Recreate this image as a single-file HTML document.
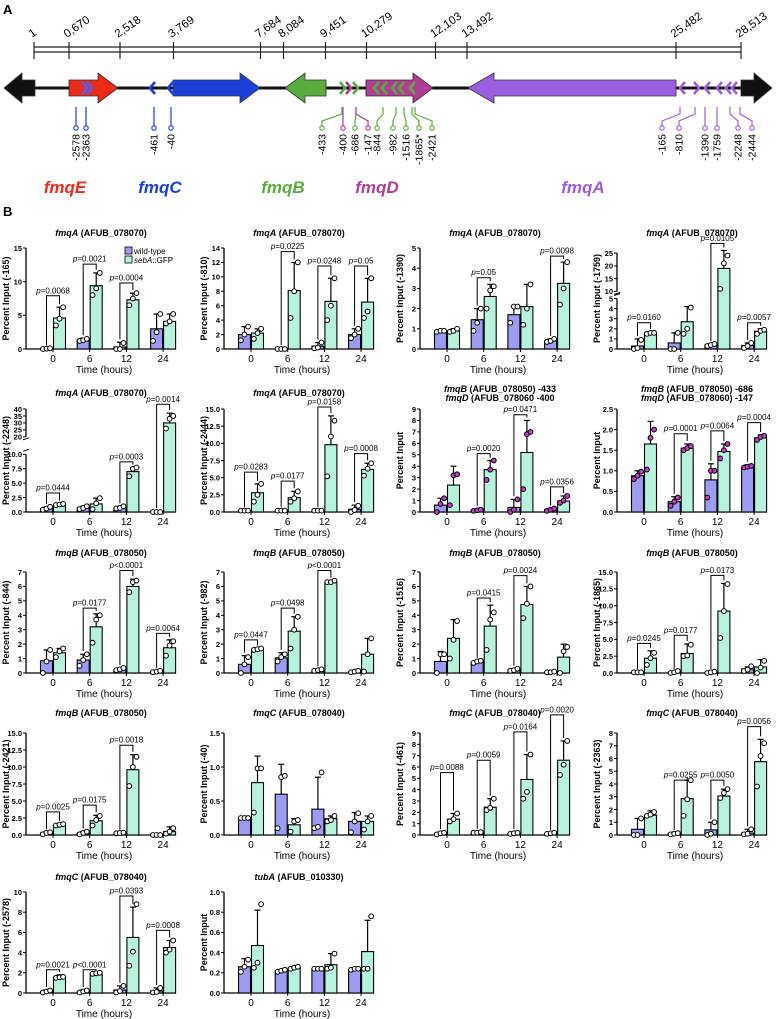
<!DOCTYPE html>
<html><head><meta charset="utf-8">
<style>
body{margin:0;background:#fff;}
svg{display:block;font-family:"Liberation Sans",Arial,sans-serif;}
</style></head>
<body>
<svg id="fig" width="778" height="1019" viewBox="0 0 778 1019" xmlns="http://www.w3.org/2000/svg">
<text x="3" y="14" font-size="13" font-weight="bold">A</text>
<text x="3" y="216" font-size="13" font-weight="bold">B</text>
<g id="panelA"></g>
<g id="panelB"></g>
</svg>
<script>
const NS="http://www.w3.org/2000/svg";
function mk(tag,attrs,parent){const e=document.createElementNS(NS,tag);for(const k in attrs)e.setAttribute(k,attrs[k]);parent.appendChild(e);return e;}
const A=document.getElementById('panelA');

/* ---------- Panel A ---------- */
const rulerPos=[34,69,120,173.5,260.5,283.5,325.5,366.5,435.5,467,676,741];
const rulerLabels=["1","0,670","2,518","3,769","7,684","8,084","9,451","10,279","12,103","13,492","25,482","28,513"];
let l;
l=mk('line',{x1:34,y1:47,x2:741,y2:47,stroke:'#222','stroke-width':1.3},A);


l=mk('line',{x1:34,y1:52,x2:741,y2:52,stroke:'#222','stroke-width':1.3},A);


rulerPos.forEach((x,i)=>{
  const t=mk('line',{x1:x,y1:42,x2:x,y2:59,stroke:'#222','stroke-width':1.2},A);
  
  
  const tx=mk('text',{x:x-2,y:38,'font-size':11.5,transform:`rotate(-35 ${x-2} 38)`},A);
  tx.textContent=rulerLabels[i];
  
  
});
l=mk('line',{x1:10,y1:88,x2:766,y2:88,stroke:'#111','stroke-width':3},A);


function arrow(x0,x1,dir,color,name,hx){
  let pts;
  if(dir>0)pts=`${x0},80 ${hx},80 ${hx},73 ${x1},88 ${hx},103 ${hx},96 ${x0},96`;
  else pts=`${x1},80 ${hx},80 ${hx},73 ${x0},88 ${hx},103 ${hx},96 ${x1},96`;
  const p=mk('polygon',{points:pts,fill:color,stroke:'#333','stroke-width':0.8},A);
  
  
}
arrow(4,35,-1,'#111','left-flank-arrow',22);
arrow(741,772,1,'#111','right-flank-arrow',754);
arrow(69,118,1,'#ee2a1a','fmqE-gene-arrow',98);
arrow(173,260,1,'#1a3fd8','fmqC-gene-arrow',240);
arrow(285,326,-1,'#5aab3e','fmqB-gene-arrow',305);
arrow(366,433,1,'#b03c94','fmqD-gene-arrow',413);
arrow(468,676,-1,'#9a5fe0','fmqA-gene-arrow',494);
function chev(x,dir,color){
  const d=dir>0?`M${x-3},82 L${x+2},88 L${x-3},94`:`M${x+3},82 L${x-2},88 L${x+3},94`;
  const p=mk('path',{d:d,fill:'none',stroke:color,'stroke-width':2.6},A);
  
  
}
[[85,1,'#5060ff'],[90,1,'#5060ff'],[152,-1,'#1a3fd8'],[170,-1,'#1a3fd8'],[343,1,'#5aab3e'],[349,1,'#b03c94'],[356,1,'#5aab3e'],[376,-1,'#5aab3e'],[384,-1,'#5aab3e'],[394,-1,'#5aab3e'],[401,-1,'#5aab3e'],[412,-1,'#5aab3e'],
 [682,-1,'#9a5fe0'],[697,1,'#9a5fe0'],[707,-1,'#9a5fe0'],[719,-1,'#9a5fe0'],[728,-1,'#9a5fe0'],[734,-1,'#9a5fe0']].forEach(c=>chev(c[0],c[1],c[2]));
const siteX=[76,86,154,171,322,343,355,368,377,393,406,419,432,662,679,705,717,738,752];
const siteStart=[76,86,154,171,342,343,356,356,383,396,404,412,415,680,695,705,717,730,740];
const siteLabels=["-2578","-2363","-461","-40","-433","-400","-686","-147","-844","-982","-1516","-1865*","-2421","-165","-810","-1390","-1759","-2248","-2444"];
const siteColors=['#1a3fd8','#1a3fd8','#1a3fd8','#1a3fd8','#5aab3e','#b03c94','#5aab3e','#b03c94','#5aab3e','#5aab3e','#5aab3e','#5aab3e','#5aab3e','#9a5fe0','#9a5fe0','#9a5fe0','#9a5fe0','#9a5fe0','#9a5fe0'];
siteX.forEach((x,i)=>{
  const s=siteStart[i],c=siteColors[i];
  const p=mk('polyline',{points:`${s},107 ${s},114 ${x},121 ${x},126`,fill:'none',stroke:c,'stroke-width':1.2},A);
  
  
  const ci=mk('circle',{cx:x,cy:128,r:2.2,fill:'#fff',stroke:c,'stroke-width':1.1},A);
  
  
  const t=mk('text',{x:x+3.5,y:134,'font-size':10.5,'text-anchor':'end',transform:`rotate(-90 ${x+3.5} 134)`},A);
  t.textContent=siteLabels[i];
  
  
});
[['fmqE',65,'#ee2a1a'],['fmqC',160,'#1a3fd8'],['fmqB',283,'#5aab3e'],['fmqD',377,'#b03c94'],['fmqA',583,'#9a5fe0']].forEach(g=>{
  const t=mk('text',{x:g[1],y:193,'font-size':17,'font-weight':'bold','font-style':'italic',fill:g[2],'text-anchor':'middle'},A);
  t.textContent=g[0];
  
  
});

/* ---------- Panel B data ---------- */
const categories=["0","6","12","24"];
const titles=[["fmqA"," (AFUB_078070)"],["fmqA"," (AFUB_078070)"],["fmqA"," (AFUB_078070)"],["fmqA"," (AFUB_078070)"],
 ["fmqA"," (AFUB_078070)"],["fmqA"," (AFUB_078070)"],["fmqB"," (AFUB_078050) -433","fmqD"," (AFUB_078060 -400"],["fmqB"," (AFUB_078050) -686","fmqD"," (AFUB_078060) -147"],
 ["fmqB"," (AFUB_078050)"],["fmqB"," (AFUB_078050)"],["fmqB"," (AFUB_078050)"],["fmqB"," (AFUB_078050)"],
 ["fmqB"," (AFUB_078050)"],["fmqC"," (AFUB_078040)"],["fmqC"," (AFUB_078040)"],["fmqC"," (AFUB_078040)"],
 ["fmqC"," (AFUB_078040)"],["tubA"," (AFUB_010330)"]];
const yTitles=["Percent Input (-165)","Percent Input (-810)","Percent Input (-1390)","Percent Input (-1759)","Percent Input (-2248)","Percent Input (-2444)","Percent Input","Percent Input",
 "Percent Input (-844)","Percent Input (-982)","Percent Input (-1516)","Percent Input (-1865)","Percent Input (-2421)","Percent Input (-40)","Percent Input (-461)","Percent Input (-2363)","Percent Input (-2578)","Percent Input"];
const tickValues=[[0,5,10,15],[0,2,4,6,8,10,12,14],[0,1,2,3,4,5],[0,1,2,3,4,5,10,15,20,25],
 [0,2.5,5,7.5,10,20,25,30,35,40],[0,2.5,5,7.5,10,12.5,15],[0,1,2,3,4,5,6,7,8,9],[0,0.5,1,1.5,2,2.5],
 [0,1,2,3,4,5,6,7],[0,1,2,3,4,5,6,7],[0,1,2,3,4,5,6,7],[0,2.5,5,7.5,10,12.5,15],
 [0,2.5,5,7.5,10,12.5,15],[0,0.5,1,1.5],[0,1,2,3,4,5,6,7,8,9],[0,1,2,3,4,5,6,7,8],[0,2,4,6,8,10],[0,0.2,0.4,0.6,0.8,1]];
const tickLabels=[["0","5","10","15"],["0","2","4","6","8","10","12","14"],["0","1","2","3","4","5"],["0","1","2","3","4","5","10","15","20","25"],
 ["0.0","2.5","5.0","7.5","10.0","20","25","30","35","40"],["0.0","2.5","5.0","7.5","10.0","12.5","15.0"],["0","1","2","3","4","5","6","7","8","9"],["0.0","0.5","1.0","1.5","2.0","2.5"],
 ["0","1","2","3","4","5","6","7"],["0","1","2","3","4","5","6","7"],["0","1","2","3","4","5","6","7"],["0.0","2.5","5.0","7.5","10.0","12.5","15.0"],
 ["0.0","2.5","5.0","7.5","10.0","12.5","15.0"],["0.0","0.5","1.0","1.5"],["0","1","2","3","4","5","6","7","8","9"],["0","1","2","3","4","5","6","7","8"],["0","2","4","6","8","10"],["0.0","0.2","0.4","0.6","0.8","1.0"]];
const axisSegments=[[[0,15,0,1]],[[0,14,0,1]],[[0,5,0,1]],[[0,5,0,0.5],[10,25,0.57,0.95]],
 [[0,10,0,0.56],[20,40,0.73,1]],[[0,15,0,1]],[[0,9,0,1]],[[0,2.5,0,1]],
 [[0,7,0,1]],[[0,7,0,1]],[[0,7,0,1]],[[0,15,0,1]],
 [[0,15,0,1]],[[0,1.5,0,1]],[[0,9,0,1]],[[0,8,0,1]],[[0,10,0,1]],[[0,1,0,1]]];
const wtMeans=[[0.05,1.3,0.3,3.0],[2,0.05,0.4,2],[0.9,1.45,1.7,0.4],[0.3,0.6,0.4,0.35],
 [0.6,0.7,0.7,0.05],[0.2,0.2,0.2,0.4],[0.6,0.15,0.4,0.2],[0.88,0.25,0.78,1.1],
 [0.85,0.9,0.25,0.1],[0.6,1.05,0.2,0.1],[0.8,0.75,0.2,0.05],[0.1,0.1,0.1,0.6],
 [0.3,0.3,0.3,0.05],[0.25,0.6,0.38,0.2],[0.15,0.2,0.15,0.15],[0.45,0.1,0.4,0.15],[0.15,0.15,0.3,0.2],[0.26,0.22,0.24,0.23]];
const gfpMeans=[[4.6,9.4,7.3,4.1],[2.2,8.1,6.6,6.5],[0.9,2.6,2.1,3.25],[1.6,2.7,19,1.75],
 [1.3,1.4,7,30],[2.8,2.1,9.8,6.2],[2.35,3.7,5.2,0.95],[1.65,1.55,1.47,1.8],
 [1.4,3.2,6.0,1.75],[1.65,2.9,6.3,1.3],[2.4,3.25,4.75,1.1],[2.2,2.9,9.2,0.9],
 [1.5,2.1,9.6,0.5],[0.77,0.15,0.24,0.2],[1.4,2.45,4.9,6.6],[1.55,2.85,3.05,5.75],[1.5,1.95,5.5,4.5],[0.47,0.25,0.28,0.41]];
const wtErrTop=[[0.1,1.6,1.0,5.2],[3.1,0.1,0.9,2.8],[0.95,2.0,2.1,0.5],[1.0,1.6,0.5,0.6],
 [0.9,1.0,1.0,0.1],[0.25,0.25,0.3,1.0],[1.2,0.25,1.1,0.3],[1.0,0.37,1.17,1.15],
 [1.6,1.3,0.35,0.15],[1.2,1.4,0.25,0.15],[1.5,0.85,0.3,0.1],[0.15,0.15,0.15,0.9],
 [0.4,0.5,0.35,0.1],[0.26,1.04,0.85,0.33],[0.25,0.25,0.25,0.2],[1.3,0.15,1.0,0.45],[0.3,0.3,0.7,0.5],[0.34,0.23,0.25,0.24]];
const gfpErrTop=[[6.2,11.3,8.3,5.2],[2.8,12,9.8,9.8],[1.0,3.2,3.2,4.3],[1.7,4.2,26,2.0],
 [1.5,2.4,7.7,37],[4.1,3.0,14,7.1],[4.0,4.5,8.0,1.4],[2.2,1.65,1.65,1.87],
 [1.7,4.1,6.5,2.3],[1.7,3.9,6.4,2.4],[3.7,4.7,6.0,2.0],[3.3,4.3,13.3,2.0],
 [1.65,2.9,11.8,1.2],[1.16,0.24,0.28,0.28],[1.9,3.2,7.1,8.3],[1.9,4.3,3.6,7.5],[1.8,2.0,8.5,5.2],[0.82,0.26,0.39,0.72]];
const wtPoints=[[[0,0.05,0.1],[1.2,1.3,1.5],[0,0,0.9],[1.2,2.5,5.2]],[[1.2,2,3.1],[0,0,0],[0.1,0.2,0.9],[1.5,2,2.8]],[[0.85,0.9,0.9],[0.9,1.3,2.0],[1.3,2.1,2.1],[0.35,0.4,0.5]],[[0,0.1,0.9],[0,0,1.6],[0.3,0.4,0.5],[0.1,0.3,0.6]],
 [[0.4,0.6,0.9],[0.5,0.7,1.0],[0.6,0.7,1.0],[0,0,0]],[[0.2,0.2,0.2],[0.2,0.2,0.2],[0.2,0.2,0.2],[0,0.3,0.9]],[[0,0.7,1.2],[0.1,0.15,0.2],[0,0.2,1.1],[0.1,0.2,0.3]],[[0.8,0.88,0.98],[0.15,0.25,0.35],[0.35,1.0,1.0],[1.08,1.1,1.12]],
 [[0,0.8,1.6],[0.5,0.9,1.3],[0.2,0.25,0.35],[0.05,0.1,0.15]],[[0,0.6,1.1],[0.8,1.1,1.3],[0.15,0.2,0.25],[0.05,0.1,0.15]],[[0,1.3,1.3],[0.7,0.8,0.85],[0.15,0.2,0.3],[0.05,0.05,0.1]],[[0.1,0.1,0.1],[0,0.1,0.3],[0,0.1,0.2],[0.3,0.5,1.0]],
 [[0.1,0.3,0.4],[0.1,0.3,0.5],[0.25,0.3,0.35],[0,0,0]],[[0.25,0.25,0.25],[0.1,0.85,0.87],[0.1,0.12,0.92],[0.04,0.2,0.32]],[[0.05,0.15,0.2],[0.2,0.2,0.25],[0.1,0.15,0.2],[0.1,0.15,0.2]],[[0,0,1.3],[0.05,0.1,0.15],[0,0.1,1.0],[0.05,0.1,0.45]],
 [[0.05,0.15,0.25],[0.05,0.15,0.25],[0.05,0.2,0.7],[0.05,0.1,0.5]],[[0.21,0.26,0.33],[0.21,0.22,0.23],[0.24,0.24,0.24],[0.23,0.24,0.24]]];
const gfpPoints=[[[3.5,4.5,6.2],[8,9,11.3],[6.5,7.5,8.3],[3.8,4.1,5.2]],[[1.4,2.2,2.8],[4.3,8,12],[4,6,9.8],[4.3,5.2,9.8]],[[0.85,0.9,1.0],[2.0,2.9,3.1],[1.2,2.0,3.2],[2.2,3.0,4.3]],[[1.5,1.6,1.6],[1.5,2,4.1],[11,21,24],[1.5,1.8,1.9]],
 [[1.2,1.3,1.4],[0.5,1.5,2.4],[6.2,7.5,7.7],[26,33,35]],[[1.5,2.5,4.1],[1.5,2,3],[5.2,11,13.3],[5.3,6.3,7.1]],[[0.6,3.2,3.3],[2.8,3.7,4.5],[2,6.8,7],[0.8,1.0,1.4]],[[1.03,1.8,2.0],[1.5,1.55,1.6],[1.3,1.5,1.65],[1.75,1.82,1.85]],
 [[1.1,1.5,1.7],[2.1,3.7,4.0],[5.6,6.3,6.4],[1.2,1.9,2.2]],[[1.6,1.65,1.7],[1.7,3.0,3.9],[6.3,6.3,6.4],[0.1,1.3,2.4]],[[1.0,2.3,3.6],[1.6,3.7,4.2],[3.8,4.8,6.0],[0,1.5,1.8]],[[1.2,2.2,3.0],[2.5,2.6,4.2],[5.2,9.2,13.2],[0,0.8,1.8]],
 [[1.4,1.5,1.6],[1.4,2.2,2.8],[7.2,10,11.5],[0.2,0.5,1.0]],[[0.33,0.98,0.98],[0.05,0.2,0.22],[0.2,0.22,0.28],[0.08,0.2,0.28]],[[1.2,1.4,1.9],[2.2,2.4,3.2],[3.2,3.8,7.1],[5.3,6.2,8.3]],[[1.5,1.6,1.8],[1.5,2.8,4.3],[2.9,3.3,3.6],[3.8,6.2,7.2]],
 [[1.5,1.55,1.6],[1.9,1.95,2.0],[2.7,4.1,8.8],[4,4.3,5.2]],[[0.25,0.3,0.88],[0.24,0.25,0.26],[0.24,0.25,0.39],[0.24,0.24,0.76]]];
const pLabels=[["0.0068","0.0021","0.0004",null],[null,"0.0225","0.0248","0.05"],[null,"0.05",null,"0.0098"],["0.0160",null,"0.0105","0.0057"],
 ["0.0444",null,"0.0003","0.0014"],["0.0283","0.0177","0.0158","0.0008"],[null,"0.0020","0.0471","0.0356"],[null,"0.0001","0.0064","0.0004"],
 [null,"0.0177","<0.0001","0.0064"],["0.0447","0.0498","<0.0001",null],[null,"0.0415","0.0024",null],["0.0245","0.0177","0.0173",null],
 ["0.0025","0.0175","0.0018",null],[null,null,null,null],["0.0088","0.0059","0.0164","0.0020"],[null,"0.0255","0.0050","0.0056"],
 ["0.0021","<0.0001","0.0393","0.0008"],[null,null,null,null]];
const bracketLevels=[[7.9,12.6,9.8,0],[0,13.5,11.5,11.5],[0,3.53,0,4.6],[2.6,0,28.8,2.6],
 [3.3,0,8.7,43.4],[5.8,4.5,15.3,8.5],[0,5.1,8.5,2.2],[0,1.9,1.97,2.17],
 [0,4.5,7.1,2.75],[2.3,4.5,7.1,0],[0,5.2,6.75,0],[4.4,5.6,14.5,0],
 [3.4,4.4,13.2,0],[0,0,0,0],[5.5,6.6,9.1,10.6],[0,4.3,4.3,8.5],[2.3,2.3,9.6,6.2],[0,0,0,0]];

/* ---------- layout ---------- */
const colX=[26,224,420,617];
const rows=[{top:248,bot:349,ty:233},{top:409,bot:512,ty:393},{top:572,bot:673,ty:553},{top:733,bot:835,ty:713},{top:892,bot:993,ty:877}];
const B=document.getElementById('panelB');
const WT='#9b9cf2',GFP='#b6f2dc';

function makeY(segs,top,bot){
  const H=bot-top;
  return function(v){
    let s=segs[0];
    for(const g of segs){ if(v>=g[0]) s=g; }
    let f=s[2]+(v-s[0])/(s[1]-s[0])*(s[3]-s[2]);
    return bot-H*f;
  };
}

for(let c=0;c<18;c++){
  const row=rows[Math.floor(c/4)], ax=colX[c%4];
  const g=mk('g',{},B);
  
  
  const segs=axisSegments[c];
  const y=makeY(segs,row.top,row.bot);
  const cx=i=>ax+27+36.7*i;
  const xEnd=ax+150;
  const t=titles[c];
  if(t.length===2){
    const tt=mk('text',{x:ax+75,y:row.ty+3,'font-size':9,'font-weight':'bold','text-anchor':'middle'},g);
    tt.innerHTML=`<tspan font-style="italic">${t[0]}</tspan>${t[1]}`;
    
    
  } else {
    const t1=mk('text',{x:ax+80,y:row.ty-1,'font-size':9,'font-weight':'bold','text-anchor':'middle'},g);
    t1.innerHTML=`<tspan font-style="italic">${t[0]}</tspan>${t[1]}`;
    
    
    const t2=mk('text',{x:ax+80,y:row.ty+8,'font-size':9,'font-weight':'bold','text-anchor':'middle'},g);
    t2.innerHTML=`<tspan font-style="italic">${t[2]}</tspan>${t[3]}`;
    
    
  }
  const ymid=(row.top+row.bot)/2;
  const yt=mk('text',{x:ax-17,y:ymid,'font-size':9,'font-weight':'bold','text-anchor':'middle',transform:`rotate(-90 ${ax-17} ${ymid})`},g);
  yt.textContent=yTitles[c];
  
  
  segs.forEach(s=>{
    const a=mk('line',{x1:ax,y1:y(s[0])+(s[0]===0?0.5:0),x2:ax,y2:y(s[1]),stroke:'#000','stroke-width':1.3},g);
    
    
  });
  if(segs.length>1){
    [y(segs[0][1])-3,y(segs[1][0])+3].forEach(yy=>{
      const bm=mk('line',{x1:ax-3,y1:yy,x2:ax+3,y2:yy-2,stroke:'#000','stroke-width':1},g);
      
      
    });
  }
  const xa=mk('line',{x1:ax,y1:row.bot,x2:xEnd,y2:row.bot,stroke:'#000','stroke-width':1.3},g);
  
  
  tickValues[c].forEach((v,i)=>{
    const yy=y(v);
    const tk=mk('line',{x1:ax-3,y1:yy,x2:ax,y2:yy,stroke:'#000','stroke-width':1},g);
    
    
    const tl=mk('text',{x:ax-4,y:yy+2.8,'font-size':7.5,'font-weight':'bold','text-anchor':'end'},g);
    tl.textContent=tickLabels[c][i];
    
    
  });
  categories.forEach((cat,i)=>{
    const tk=mk('line',{x1:cx(i),y1:row.bot,x2:cx(i),y2:row.bot+3,stroke:'#000','stroke-width':1},g);
    
    
    const tl=mk('text',{x:cx(i),y:row.bot+13,'font-size':10,'text-anchor':'middle'},g);
    tl.textContent=cat;
    
    
  });
  const xt=mk('text',{x:ax+78,y:row.bot+24,'font-size':10,'text-anchor':'middle'},g);
  xt.textContent='Time (hours)';
  
  
  const dotFill=(c===6||c===7)?'#c23fc6':'#fff';
  categories.forEach((cat,i)=>{
    [[wtMeans,wtErrTop,wtPoints,WT,-6.5,'wild-type'],[gfpMeans,gfpErrTop,gfpPoints,GFP,6.5,'seba-gfp']].forEach(s=>{
      const bx=cx(i)+s[4], m=s[0][c][i], yb=y(m);
      const eb=mk('line',{x1:bx,y1:yb,x2:bx,y2:y(s[1][c][i]),stroke:'#000','stroke-width':1.2},g);
      
      
      const ec=mk('line',{x1:bx-3,y1:y(s[1][c][i]),x2:bx+3,y2:y(s[1][c][i]),stroke:'#000','stroke-width':1.2},g);
      
      
      const r=mk('rect',{x:bx-6,y:yb,width:12,height:Math.max(0,row.bot-yb),fill:s[3],stroke:'#000','stroke-width':1.1},g);
      
      
      s[2][c][i].forEach((v,k)=>{
        const d=mk('circle',{cx:bx+(k-1)*3.6,cy:y(v),r:2.4,fill:dotFill,stroke:'#000','stroke-width':1},g);
        
        
      });
    });
    const p=pLabels[c][i];
    if(p){
      const L=y(bracketLevels[c][i]);
      const x1=cx(i)-6.5,x2=cx(i)+6.5;
      const br=mk('polyline',{points:`${x1},${y(wtErrTop[c][i])-3} ${x1},${L} ${x2},${L} ${x2},${y(gfpErrTop[c][i])-3}`,fill:'none',stroke:'#000','stroke-width':1},g);
      
      
      const pt=mk('text',{x:cx(i),y:L-2.5,'font-size':8,'text-anchor':'middle'},g);
      pt.innerHTML=`<tspan font-style="italic">p</tspan>${p.startsWith('<')?'&lt;'+p.slice(1):'='+p}`;
      
      
    }
  });
  if(c===0){
    const lg=mk('g',{},g);
    
    
    const r1=mk('rect',{x:125,y:247,width:7,height:7,fill:WT,stroke:'#000','stroke-width':0.8},lg);
    
    
    const l1=mk('text',{x:134,y:254,'font-size':8},lg);
    l1.textContent='wild-type';
    
    
    const r2=mk('rect',{x:125,y:256,width:7,height:7,fill:GFP,stroke:'#000','stroke-width':0.8},lg);
    
    
    const l2=mk('text',{x:134,y:263,'font-size':8},lg);
    l2.innerHTML='<tspan font-style="italic">sebA</tspan>::GFP';
    
    
  }
}
</script>
</body></html>
